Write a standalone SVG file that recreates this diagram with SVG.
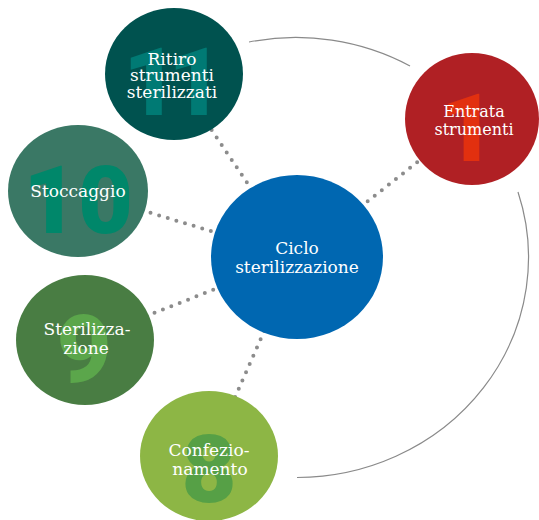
<svg xmlns="http://www.w3.org/2000/svg" width="539" height="520" viewBox="0 0 539 520">
<style>
.lbl{font-family:"DejaVu Serif","Liberation Serif",serif;font-size:17px;fill:#ffffff;text-anchor:middle}
.num{font-family:Roboto,"Liberation Sans",sans-serif;font-weight:900;font-size:95px;text-anchor:middle}
.dot{stroke:#8c8c8c;stroke-width:4;stroke-linecap:round;stroke-dasharray:0 9;fill:none}
.arc{stroke:#8a8a8a;stroke-width:1.2;fill:none}
</style>
<rect width="539" height="520" fill="#ffffff"/>
<g id="connectors">
<path class="arc" d="M249,42 A232,220 0 0 1 410,66"/>
<path class="arc" d="M518,192 A232,220 0 0 1 297,477.5"/>
<line class="dot" x1="297" y1="257" x2="174" y2="74"/>
<line class="dot" x1="297" y1="257" x2="472" y2="119"/>
<line class="dot" x1="297" y1="257" x2="78" y2="191"/>
<line class="dot" x1="297" y1="257" x2="85" y2="340"/>
<line class="dot" x1="297" y1="257" x2="209" y2="456"/>
</g>
<g id="node-center">
<ellipse cx="297" cy="257" rx="86" ry="82" fill="#0067b1"/>
<text class="lbl" x="297" y="254">Ciclo</text>
<text class="lbl" x="297" y="273">sterilizzazione</text>
</g>
<g id="node-11">
<ellipse cx="174" cy="74" rx="69" ry="66" fill="#00524f"/>
<text class="num" x="168" y="115" fill="#007a74" letter-spacing="-10">11</text>
<text class="lbl" x="172" y="65">Ritiro</text>
<text class="lbl" x="172" y="81">strumenti</text>
<text class="lbl" x="172" y="98">sterilizzati</text>
</g>
<g id="node-1">
<ellipse cx="472" cy="119" rx="67" ry="66" fill="#b02024"/>
<text class="num" x="468" y="161" fill="#e2300f">1</text>
<text class="lbl" x="474" y="117" style="font-size:16px">Entrata</text>
<text class="lbl" x="474" y="135" style="font-size:16px">strumenti</text>
</g>
<g id="node-10">
<ellipse cx="78" cy="191" rx="70" ry="66" fill="#3a7865"/>
<text class="num" x="78" y="233" fill="#00876a">10</text>
<text class="lbl" x="78" y="197">Stoccaggio</text>
</g>
<g id="node-9">
<ellipse cx="85" cy="340" rx="69" ry="65" fill="#497d43"/>
<text class="num" x="84" y="382" fill="#5ba64b">9</text>
<text class="lbl" x="87" y="335">Sterilizza-</text>
<text class="lbl" x="86" y="354">zione</text>
</g>
<g id="node-8">
<ellipse cx="209" cy="456" rx="69" ry="65" fill="#8db645"/>
<text class="num" x="209" y="502" fill="#56a046">8</text>
<text class="lbl" x="209" y="456">Confezio-</text>
<text class="lbl" x="210" y="475">namento</text>
</g>
</svg>
